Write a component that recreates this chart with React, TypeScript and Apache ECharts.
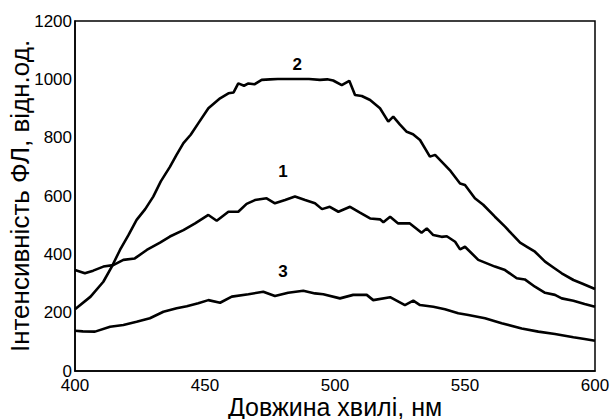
import React, { useEffect, useRef } from "react";
import * as echarts from "echarts";

const curve1Wl = [400, 403.8, 407, 410.9, 414.7, 418.6, 423, 427.6, 432.7, 436.5, 441.7, 446.2, 451.3, 454.5, 459, 462.8, 466, 469.2, 473.7, 476.9, 480.8, 484.6, 488.5, 492.3, 495, 498, 501.3, 505.8, 509.6, 513.5, 517.3, 518.6, 521.2, 524.3, 528.8, 533.3, 535.3, 537.8, 541, 543, 546.2, 548.1, 550, 555.1, 561.5, 565.4, 569.9, 573, 576.9, 580.8, 584.6, 587.2, 591.7, 596, 600];
const curve1Val = [346, 335, 344, 358, 363, 381, 386, 415, 440, 461, 483, 506, 535, 515, 546, 546, 573, 586, 592, 575, 586, 598, 586, 575, 555, 563, 546, 563, 543, 523, 520, 510, 529, 506, 506, 474, 489, 466, 460, 462, 443, 417, 426, 381, 358, 346, 318, 314, 289, 268, 261, 249, 241, 230, 220];

const curve2Wl = [400, 406, 410.9, 414, 417.3, 420.5, 423.7, 427, 430.1, 433, 436.5, 439, 441.7, 444.5, 447.4, 451.3, 455.8, 459, 461, 462.8, 465, 466.7, 469, 471.8, 475, 478, 485, 490, 494.2, 497, 499.3, 502.6, 505.5, 507.7, 510.3, 513.5, 517.3, 520.5, 522.4, 525, 527.6, 530, 532.7, 536.5, 538.5, 542.3, 544.5, 548.1, 550, 553.8, 557, 561.5, 565.4, 568, 571.2, 574, 576.9, 580.8, 584, 587.2, 591.7, 595, 600];
const curve2Val = [212, 255, 306, 355, 415, 465, 518, 555, 598, 650, 700, 740, 781, 810, 849, 901, 935, 952, 955, 986, 978, 986, 983, 998, 1000, 1001, 1001, 1001, 998, 1000, 996, 980, 995, 946, 943, 929, 901, 855, 872, 845, 820, 812, 792, 735, 741, 706, 685, 643, 638, 592, 570, 529, 495, 470, 440, 425, 409, 375, 355, 335, 312, 300, 281];

const curve3Wl = [400, 403, 407.7, 413.5, 418.6, 423.7, 428.8, 434, 439.1, 443, 447.4, 451.3, 455.8, 460.3, 466.7, 472.4, 476.9, 482, 487.8, 492.3, 495.5, 501.9, 507, 512.2, 514.7, 521.2, 526.9, 530.1, 532.7, 537.8, 542.3, 547.4, 551.3, 557.7, 564.1, 571.8, 578.2, 584.6, 591.7, 596, 600];
const curve3Val = [138, 136, 135, 152, 158, 169, 181, 203, 215, 222, 232, 243, 234, 255, 263, 272, 257, 268, 275, 266, 263, 249, 261, 261, 243, 253, 226, 241, 226, 220, 212, 198, 192, 181, 164, 146, 135, 127, 116, 110, 104];

const curveNames = ["1", "2", "3"];
const labelWl = [480, 485.5, 480];
const labelVal = [685, 1050, 342];

const xTitle = "Довжина хвилі, нм";
const yTitle = "Інтенсивність ФЛ, відн.од.";

const zip = (a: number[], b: number[]) => a.map((v, i) => [v, b[i]]);

export default function App() {
  const ref = useRef<HTMLDivElement>(null);
  useEffect(() => {
    const chart = echarts.init(ref.current!, null, { renderer: "svg" });
    const datasets = [zip(curve1Wl, curve1Val), zip(curve2Wl, curve2Val), zip(curve3Wl, curve3Val)];
    const font = "Liberation Sans, Arial, sans-serif";
    chart.setOption({
      animation: false,
      backgroundColor: "#ffffff",
      grid: {
        left: 75, right: 16, top: 21, bottom: 48,
        containLabel: false, outerBoundsMode: "none",
        show: true, borderColor: "#000", borderWidth: 1.5, backgroundColor: "transparent",
      },
      xAxis: {
        type: "value",
        min: 400,
        max: 600,
        interval: 50,
        name: xTitle,
        nameLocation: "middle",
        nameGap: 23,
        nameMoveOverlap: false,
        nameTextStyle: { fontFamily: font, fontSize: 25, color: "#000" },
        axisLine: { show: true, lineStyle: { color: "#000", width: 1.5 } },
        axisTick: { show: false },
        splitLine: { show: false },
        axisLabel: { fontFamily: font, fontSize: 17, color: "#000", margin: 6, formatter: (v: number) => String(v) },
      },
      yAxis: {
        type: "value",
        min: 0,
        max: 1200,
        interval: 200,
        name: yTitle,
        nameLocation: "middle",
        nameGap: 42,
        nameMoveOverlap: false,
        nameTextStyle: { fontFamily: font, fontSize: 26, color: "#000" },
        axisLine: { show: true, lineStyle: { color: "#000", width: 1.5 } },
        axisTick: { show: false },
        splitLine: { show: false },
        axisLabel: { fontFamily: font, fontSize: 17, color: "#000", margin: 3, formatter: (v: number) => String(v) },
      },
      series: datasets.map((d, i) => ({
        type: "line",
        name: curveNames[i],
        data: d,
        showSymbol: false,
        lineStyle: { color: "#000", width: 2.6 },
        itemStyle: { color: "#000" },
        markPoint: {
          symbol: "circle",
          symbolSize: 0,
          label: { show: true, position: "inside", formatter: curveNames[i], fontFamily: font, fontWeight: "bold", fontSize: 17, color: "#000" },
          data: [{ coord: [labelWl[i], labelVal[i]] }],
        },
      })),
    });
    return () => chart.dispose();
  }, []);
  return <div ref={ref} style={{ position: "absolute", left: 0, top: 0, width: 611, height: 419 }} />;
}
